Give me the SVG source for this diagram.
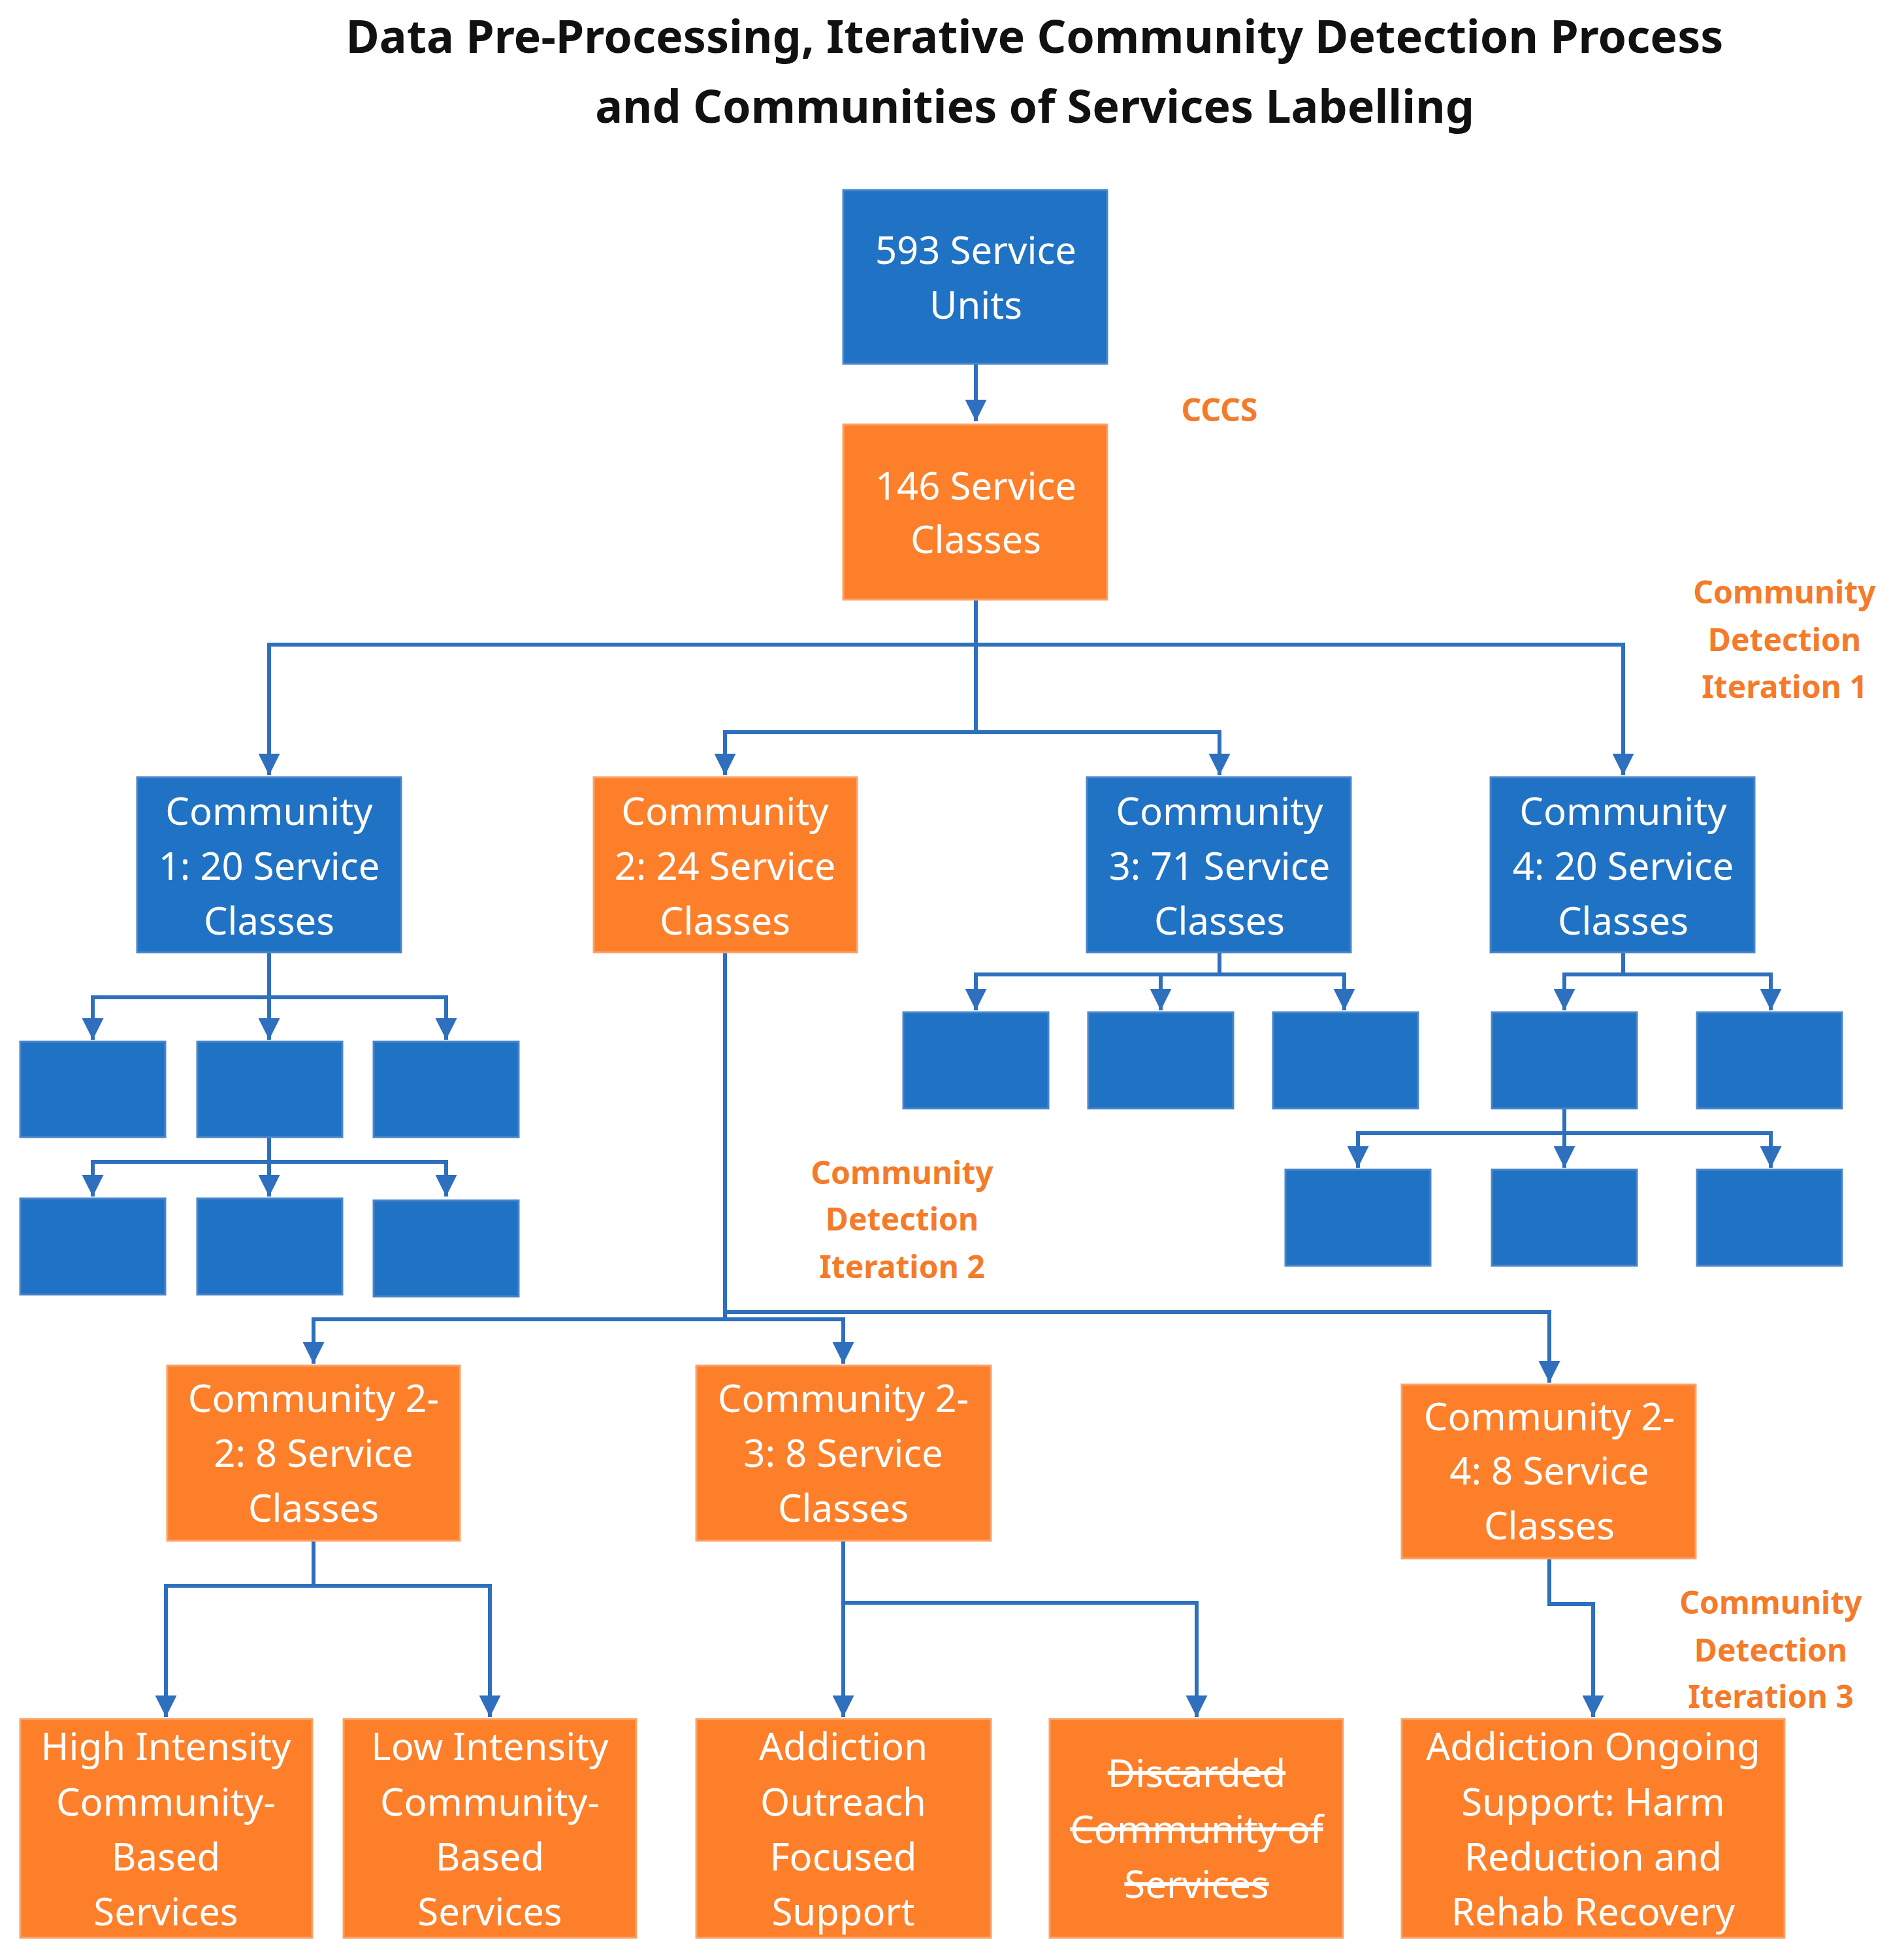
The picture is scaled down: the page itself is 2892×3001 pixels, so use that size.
<svg xmlns="http://www.w3.org/2000/svg" width="2892" height="3001" viewBox="0 0 2892 3001">
<style>
.b{fill:#1f72c4;stroke:#4a86c8;stroke-width:3}
.o{fill:#fd7f2a;stroke:#f9a36a;stroke-width:3}
.t{font-family:"Noto Sans","Open Sans",sans-serif;font-size:58px;fill:#fff;text-anchor:middle;dominant-baseline:central}
.l{font-family:"Noto Sans","Open Sans",sans-serif;font-size:48px;font-weight:bold;fill:#f47b2a;text-anchor:middle;dominant-baseline:central}
.c{fill:none;stroke:#2e6fbe;stroke-width:6}
.h{font-family:"Noto Sans","Open Sans",sans-serif;font-size:70px;font-weight:bold;fill:#111;text-anchor:middle;dominant-baseline:central}
</style>
<defs><marker id="a" viewBox="0 0 10 10" refX="10" refY="5" markerWidth="5.5" markerHeight="5.5" markerUnits="strokeWidth" orient="auto"><path d="M0,0L10,5L0,10z" fill="#2e6fbe"/></marker></defs>
<rect width="2892" height="3001" fill="#fff"/>
<text class="h" x="1584" y="54">Data Pre-Processing, Iterative Community Detection Process</text>
<text class="h" x="1584" y="161">and Communities of Services Labelling</text>
<g id="connectors">
<path class="c" d="M1494,557V645" marker-end="url(#a)"/>
<path class="c" d="M1494,918V987H412V1187" marker-end="url(#a)"/>
<path class="c" d="M1494,987H2485V1187" marker-end="url(#a)"/>
<path class="c" d="M1494,987V1121H1110V1187" marker-end="url(#a)"/>
<path class="c" d="M1494,1121H1867V1187" marker-end="url(#a)"/>
<path class="c" d="M412,1458V1592" marker-end="url(#a)"/>
<path class="c" d="M412,1527H142V1592" marker-end="url(#a)"/>
<path class="c" d="M412,1527H683V1592" marker-end="url(#a)"/>
<path class="c" d="M412,1741V1832" marker-end="url(#a)"/>
<path class="c" d="M412,1779H142V1832" marker-end="url(#a)"/>
<path class="c" d="M412,1779H683V1832" marker-end="url(#a)"/>
<path class="c" d="M1867,1458V1492H1494V1547" marker-end="url(#a)"/>
<path class="c" d="M1777,1492V1547" marker-end="url(#a)"/>
<path class="c" d="M1867,1492H2058V1547" marker-end="url(#a)"/>
<path class="c" d="M2485,1458V1492H2395V1547" marker-end="url(#a)"/>
<path class="c" d="M2485,1492H2711V1547" marker-end="url(#a)"/>
<path class="c" d="M2395,1697V1788" marker-end="url(#a)"/>
<path class="c" d="M2395,1735H2079V1788" marker-end="url(#a)"/>
<path class="c" d="M2395,1735H2711V1788" marker-end="url(#a)"/>
<path class="c" d="M1110,1458V2020H480V2088" marker-end="url(#a)"/>
<path class="c" d="M1110,2020H1291V2088" marker-end="url(#a)"/>
<path class="c" d="M1110,2009H2372V2117" marker-end="url(#a)"/>
<path class="c" d="M480,2359V2428H254V2629" marker-end="url(#a)"/>
<path class="c" d="M480,2428H750V2629" marker-end="url(#a)"/>
<path class="c" d="M1291,2359V2629" marker-end="url(#a)"/>
<path class="c" d="M1291,2454H1832V2629" marker-end="url(#a)"/>
<path class="c" d="M2372,2386V2456H2439V2629" marker-end="url(#a)"/>
</g>
<g id="n593"><rect class="b" x="1291" y="291" width="404" height="266"/><text class="t" x="1494" y="381">593 Service</text><text class="t" x="1494" y="465">Units</text></g>
<g id="n146"><rect class="o" x="1291" y="650" width="404" height="268"/><text class="t" x="1494" y="742">146 Service</text><text class="t" x="1494" y="824">Classes</text></g>
<g id="lab-cccs"><text class="l" x="1867" y="626" style="font-weight:bold">CCCS</text></g>
<g id="lab-it1"><text class="l" x="2732" y="905">Community</text><text class="l" x="2732" y="978">Detection</text><text class="l" x="2732" y="1050">Iteration 1</text></g>
<g id="c1"><rect class="b" x="210" y="1190" width="404" height="268"/><text class="t" x="412" y="1240">Community</text><text class="t" x="412" y="1324">1: 20 Service</text><text class="t" x="412" y="1408">Classes</text></g>
<g id="c2"><rect class="o" x="909" y="1190" width="403" height="268"/><text class="t" x="1110" y="1240">Community</text><text class="t" x="1110" y="1324">2: 24 Service</text><text class="t" x="1110" y="1408">Classes</text></g>
<g id="c3"><rect class="b" x="1664" y="1190" width="404" height="268"/><text class="t" x="1867" y="1240">Community</text><text class="t" x="1867" y="1324">3: 71 Service</text><text class="t" x="1867" y="1408">Classes</text></g>
<g id="c4"><rect class="b" x="2282" y="1190" width="404" height="268"/><text class="t" x="2485" y="1240">Community</text><text class="t" x="2485" y="1324">4: 20 Service</text><text class="t" x="2485" y="1408">Classes</text></g>
<g id="c1-sub">
<rect class="b" x="31" y="1595" width="222" height="146"/><rect class="b" x="302" y="1595" width="222" height="146"/><rect class="b" x="572" y="1595" width="222" height="146"/>
<rect class="b" x="31" y="1835" width="222" height="147"/><rect class="b" x="302" y="1835" width="222" height="147"/><rect class="b" x="572" y="1838" width="222" height="147"/>
</g>
<g id="c3-sub">
<rect class="b" x="1383" y="1550" width="222" height="147"/><rect class="b" x="1666" y="1550" width="222" height="147"/><rect class="b" x="1949" y="1550" width="222" height="147"/>
</g>
<g id="c4-sub">
<rect class="b" x="2284" y="1550" width="222" height="147"/><rect class="b" x="2598" y="1550" width="222" height="147"/>
<rect class="b" x="1968" y="1791" width="222" height="147"/><rect class="b" x="2284" y="1791" width="222" height="147"/><rect class="b" x="2598" y="1791" width="222" height="147"/>
</g>
<g id="lab-it2"><text class="l" x="1381" y="1794">Community</text><text class="l" x="1381" y="1865">Detection</text><text class="l" x="1381" y="1938">Iteration 2</text></g>
<g id="c22"><rect class="o" x="256" y="2091" width="448" height="268"/><text class="t" x="480" y="2139">Community 2-</text><text class="t" x="480" y="2223">2: 8 Service</text><text class="t" x="480" y="2307">Classes</text></g>
<g id="c23"><rect class="o" x="1066" y="2091" width="451" height="268"/><text class="t" x="1291" y="2139">Community 2-</text><text class="t" x="1291" y="2223">3: 8 Service</text><text class="t" x="1291" y="2307">Classes</text></g>
<g id="c24"><rect class="o" x="2146" y="2120" width="450" height="266"/><text class="t" x="2372" y="2167">Community 2-</text><text class="t" x="2372" y="2250">4: 8 Service</text><text class="t" x="2372" y="2334">Classes</text></g>
<g id="lab-it3"><text class="l" x="2711" y="2452">Community</text><text class="l" x="2711" y="2525">Detection</text><text class="l" x="2711" y="2596">Iteration 3</text></g>
<g id="b1"><rect class="o" x="31" y="2632" width="447" height="335"/><text class="t" x="254" y="2672">High Intensity</text><text class="t" x="254" y="2757">Community-</text><text class="t" x="254" y="2841">Based</text><text class="t" x="254" y="2925">Services</text></g>
<g id="b2"><rect class="o" x="526" y="2632" width="448" height="335"/><text class="t" x="750" y="2672">Low Intensity</text><text class="t" x="750" y="2757">Community-</text><text class="t" x="750" y="2841">Based</text><text class="t" x="750" y="2925">Services</text></g>
<g id="b3"><rect class="o" x="1066" y="2632" width="451" height="335"/><text class="t" x="1291" y="2672">Addiction</text><text class="t" x="1291" y="2757">Outreach</text><text class="t" x="1291" y="2841">Focused</text><text class="t" x="1291" y="2925">Support</text></g>
<g id="b4"><rect class="o" x="1607" y="2632" width="449" height="335"/><text class="t" x="1832" y="2713" text-decoration="line-through">Discarded</text><text class="t" x="1832" y="2799" text-decoration="line-through">Community of</text><text class="t" x="1832" y="2883" text-decoration="line-through">Services</text></g>
<g id="b5"><rect class="o" x="2146" y="2632" width="586" height="335"/><text class="t" x="2439" y="2672">Addiction Ongoing</text><text class="t" x="2439" y="2757">Support: Harm</text><text class="t" x="2439" y="2841">Reduction and</text><text class="t" x="2439" y="2925">Rehab Recovery</text></g>
</svg>
